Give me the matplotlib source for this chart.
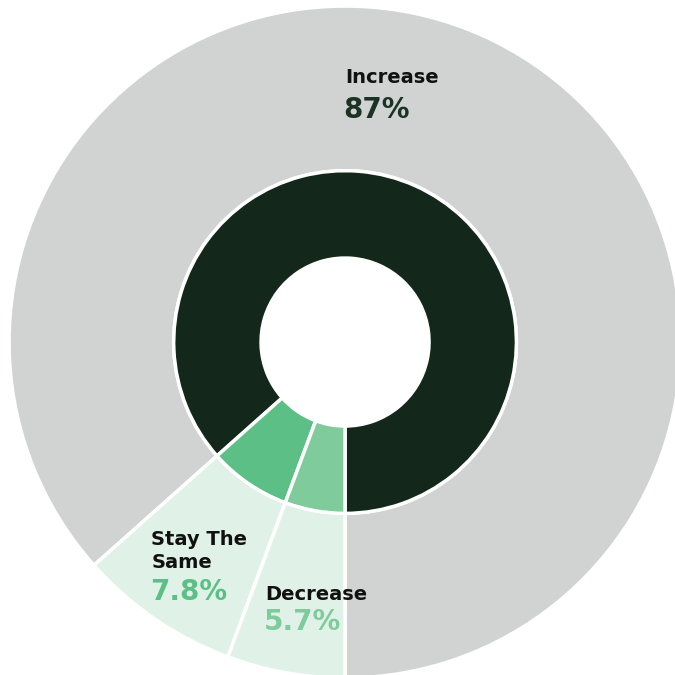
import matplotlib.pyplot as plt

# data
labels = ['Increase', 'Stay The Same', 'Decrease']
values = [87, 7.8, 5.7]
value_text = ['87%', '7.8%', '5.7%']

outer_colors = ['#d0d3d2', '#e0f2e7', '#e0f2e7']
inner_colors = ['#13271b', '#5cbf85', '#7fcb9b']
pct_colors = ['#1b3324', '#5cbf85', '#7fcb9b']

fig = plt.figure(figsize=(6.75, 6.75), dpi=100)
ax = fig.add_axes([0, 0, 1, 1])

wedge_style = dict(edgecolor='white', linewidth=2.5)

ax.pie(values, radius=1.0, colors=outer_colors, startangle=-90,
       counterclock=True, wedgeprops=dict(width=0.49, **wedge_style))
ax.pie(values, radius=0.51, colors=inner_colors, startangle=-90,
       counterclock=True, wedgeprops=dict(width=0.26, **wedge_style))

# labels (left aligned, name above value); baseline = last line
lab_pos = [(0.0, 0.77), (-0.577, -0.673), (-0.238, -0.768)]
pct_pos = [(-0.006, 0.667), (-0.580, -0.768), (-0.241, -0.857)]
names = ['Increase', 'Stay The\nSame', 'Decrease']

for i in range(len(labels)):
    ax.text(lab_pos[i][0], lab_pos[i][1], names[i], ha='left', va='baseline',
            fontsize=14, fontweight='bold', color='#111111',
            linespacing=1.3, family='DejaVu Sans')
    ax.text(pct_pos[i][0], pct_pos[i][1], value_text[i], ha='left', va='baseline',
            fontsize=20, fontweight='bold', color=pct_colors[i],
            family='DejaVu Sans')

ax.set_xlim(-1.027, 0.982)
ax.set_ylim(-0.991, 1.018)
ax.set_aspect('equal')
ax.axis('off')

fig.savefig('out.png', dpi=100, facecolor='white')
